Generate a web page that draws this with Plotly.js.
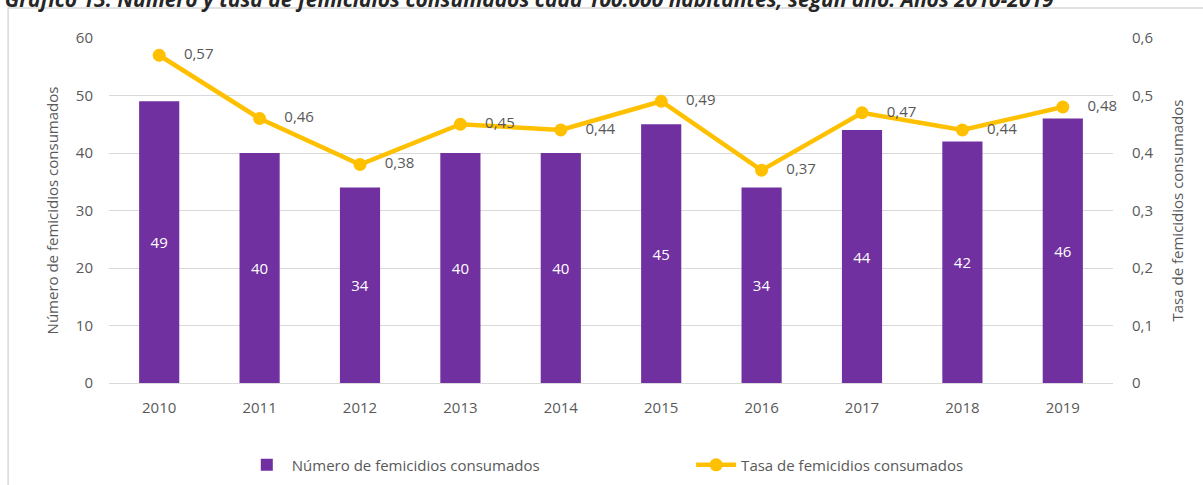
<!DOCTYPE html>
<html>
<head>
<meta charset="utf-8">
<script src="https://cdn.plot.ly/plotly-3.0.1.min.js"></script>
<style>html,body{margin:0;padding:0;background:#fff;}#chart{width:1203px;height:485px;}</style>
</head>
<body>
<div id="chart"></div>
<script>
const years = ['2010','2011','2012','2013','2014','2015','2016','2017','2018','2019'];
const femicidios = [49, 40, 34, 40, 40, 45, 34, 44, 42, 46];
const tasa = [0.57, 0.46, 0.38, 0.45, 0.44, 0.49, 0.37, 0.47, 0.44, 0.48];

const gray = '#595959';
const fam = '"Open Sans", "Liberation Sans", sans-serif';

const traces = [
  {
    type: 'bar', x: years, y: femicidios, name: 'Número de femicidios consumados',
    marker: {color: '#7030A0'}, width: 0.4, legend: 'legend',
    text: femicidios.map(String), textposition: 'inside', insidetextanchor: 'middle',
    textfont: {color: '#ffffff', size: 15, family: fam}, hoverinfo: 'x+y'
  },
  {
    type: 'scatter', mode: 'lines+markers+text', x: years, y: tasa, yaxis: 'y2',
    name: 'Tasa de femicidios consumados', legend: 'legend2',
    line: {color: '#FFC000', width: 4.5}, marker: {color: '#FFC000', size: 13},
    texttemplate: '    %{y:.2f}', textposition: 'middle right',
    textfont: {color: gray, size: 15, family: fam}, cliponaxis: false
  }
];

const legendCommon = {
  orientation: 'h', yref: 'container', y: 0.041, yanchor: 'middle', xref: 'container',
  xanchor: 'left', font: {size: 15, color: gray}, itemwidth: 40, bgcolor: 'rgba(0,0,0,0)'
};

const layout = {
  width: 1203, height: 485,
  margin: {l: 109, r: 90, t: 38, b: 102},
  separators: ',.',
  font: {family: fam, color: gray, size: 15},
  paper_bgcolor: '#fff', plot_bgcolor: '#fff',
  title: {
    text: '<b><i>Gráfico 13: Número y tasa de femicidios consumados cada 100.000 habitantes, según año. Años 2010-2019</i></b>',
    font: {family: fam, size: 21, color: '#262626'},
    xref: 'container', yref: 'container', x: 0.004, xanchor: 'left', y: 1.0, yanchor: 'middle'
  },
  xaxis: {
    type: 'category', range: [-0.5, 9.5], showgrid: false, showline: true, linecolor: '#D9D9D9', linewidth: 1,
    ticks: '', ticklabelstandoff: 11, tickfont: {size: 15, color: gray}, zeroline: false,
    automargin: false
  },
  yaxis: {
    range: [0, 60], dtick: 10, showgrid: true, gridcolor: '#D9D9D9', gridwidth: 1,
    zeroline: false, showline: false, ticks: '', ticklabelstandoff: 15,
    tickfont: {size: 15, color: gray}, automargin: false,
    title: {text: 'Número de femicidios consumados', font: {size: 15, color: gray}, standoff: 13}
  },
  yaxis2: {
    overlaying: 'y', side: 'right', range: [0, 0.6], dtick: 0.1, showgrid: false,
    zeroline: false, showline: false, ticks: '', ticklabelstandoff: 18,
    tickfont: {size: 15, color: gray}, automargin: false,
    title: {text: 'Tasa de femicidios consumados', font: {size: 15, color: gray}, standoff: 20}
  },
  legend: Object.assign({}, legendCommon, {x: 0.201}),
  legend2: Object.assign({}, legendCommon, {x: 0.5745}),
  shapes: [{
    type: 'rect', xref: 'paper', yref: 'paper', x0: -0.1005, x1: 1.1, y0: -0.4, y1: 1.0867,
    line: {color: '#D9D9D9', width: 1.5}, layer: 'below'
  }],
  showlegend: true
};

Plotly.newPlot('chart', traces, layout, {displayModeBar: false, staticPlot: true});
</script>
</body>
</html>
